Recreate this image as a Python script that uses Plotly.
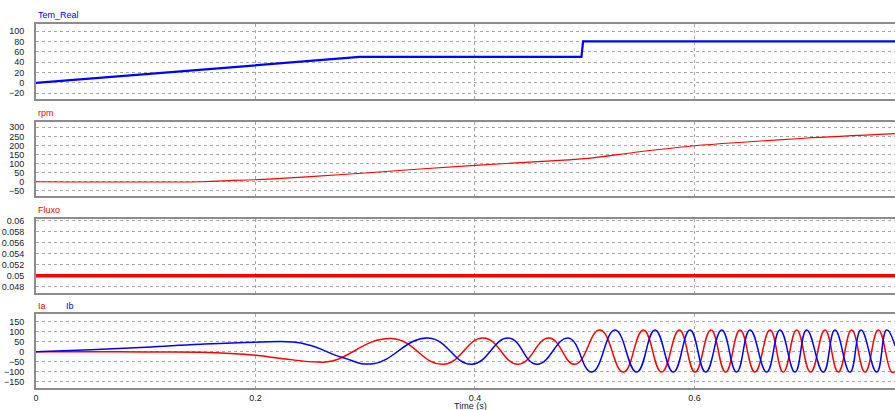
import plotly.graph_objects as go

# ---------------- data ----------------
tem_t = [0.0, 0.1, 0.2, 0.295, 0.4, 0.497, 0.4985, 0.6, 0.7827]
tem_v = [0.0, 17.0, 34.0, 50.0, 50.0, 50.0, 80.0, 80.0, 80.0]

rpm_t = [0.0, 0.15, 0.18, 0.2, 0.22, 0.25, 0.3, 0.35, 0.4, 0.45, 0.5, 0.55, 0.6, 0.65, 0.7, 0.7827]
rpm_v = [0, 0, 7, 11, 17, 28, 48, 70, 90, 108, 127, 165, 198, 220, 240, 265]

flux_t = [0.0, 0.7827]
flux_v = [0.05, 0.05]

ia_t = [0.0, 0.05, 0.1, 0.15, 0.2, 0.225, 0.257, 0.271, 0.3241, 0.3711, 0.4076, 0.4394, 0.4675,
        0.4911, 0.5139, 0.5352, 0.5534, 0.5701, 0.5862, 0.6005, 0.6150, 0.6284, 0.6415,
        0.6551, 0.6688, 0.6809, 0.6931, 0.7058, 0.7189, 0.7310, 0.7432, 0.7554, 0.7675,
        0.7797, 0.7827]
ia_v = [0, 0, -1, -3, -18, -35, -52, -45, 66, -63, 68, -63, 68,
        -63, 108, -102, 108, -102, 108, -102, 108, -102, 108,
        -102, 108, -102, 108, -102, 108, -102, 108, -102, 108,
        -102, -98]

ib_t = [0.0, 0.05, 0.1, 0.15, 0.2, 0.234, 0.2497, 0.28, 0.3074, 0.3575, 0.3970, 0.4304, 0.4565,
        0.4850, 0.5063, 0.5276, 0.5473, 0.5640, 0.5807, 0.5959, 0.6102, 0.6248, 0.6384,
        0.6506, 0.6658, 0.6779, 0.6916, 0.7022, 0.7174, 0.7280, 0.7417, 0.7517, 0.7660,
        0.7751, 0.7827]
ib_v = [0, 10, 22, 37, 47, 48, 32, -30, -60, 68, -63, 68, -63,
        68, -102, 108, -102, 108, -102, 108, -102, 108, -102,
        108, -102, 108, -102, 108, -102, 108, -102, 108, -102,
        108, 30]

x_ticks = [0, 0.2, 0.4, 0.6]
x_ticklabels = ["0", "0.2", "0.4", "0.6"]
tem_ticks = [-20, 0, 20, 40, 60, 80, 100]
rpm_ticks = [-50, 0, 50, 100, 150, 200, 250, 300]
flux_ticks = [0.048, 0.05, 0.052, 0.054, 0.056, 0.058, 0.06]
flux_ticklabels = ["0.048", "0.05", "0.052", "0.054", "0.056", "0.058", "0.06"]
cur_ticks = [-150, -100, -50, 0, 50, 100, 150]

# ---------------- figure ----------------
W, H = 895, 410
BLUE = "#0000FF"
RED = "#FF0000"
FONT = "Liberation Sans"

fig = go.Figure()
fig.add_trace(go.Scatter(x=tem_t, y=tem_v, mode="lines", line=dict(color=BLUE, width=2.2),
                         xaxis="x", yaxis="y", showlegend=False))
fig.add_trace(go.Scatter(x=rpm_t, y=rpm_v, mode="lines", line=dict(color=RED, width=1.1, shape="spline"),
                         xaxis="x2", yaxis="y2", showlegend=False))
fig.add_trace(go.Scatter(x=flux_t, y=flux_v, mode="lines", line=dict(color=RED, width=3.5),
                         xaxis="x3", yaxis="y3", showlegend=False))
fig.add_trace(go.Scatter(x=ia_t, y=ia_v, mode="lines",
                         line=dict(color=RED, width=1.5, shape="spline", smoothing=1.3),
                         xaxis="x4", yaxis="y4", showlegend=False))
fig.add_trace(go.Scatter(x=ib_t, y=ib_v, mode="lines",
                         line=dict(color=BLUE, width=1.5, shape="spline", smoothing=1.3),
                         xaxis="x4", yaxis="y4", showlegend=False))

def ydom(top_px, bot_px):
    return [1 - bot_px / H, 1 - top_px / H]

panels = [
    ("", ydom(24, 99), [-31, 113.5], tem_ticks, None),
    ("2", ydom(121.7, 196), [-79, 331], rpm_ticks, None),
    ("3", ydom(219, 292.7), [0.0469, 0.0603], flux_ticks, flux_ticklabels),
    ("4", ydom(314.3, 387.7), [-180, 187], cur_ticks, None),
]

grid = dict(showgrid=True, gridcolor="#A8A8A8", griddash="3px,3px", gridwidth=1)
for i, (sfx, dom, yr, yt, ytl) in enumerate(panels):
    last = sfx == "4"
    xa = dict(domain=[0, 1], range=[0, 0.7827], anchor="y" + sfx,
              tickvals=x_ticks, ticktext=x_ticklabels, showticklabels=last,
              ticks="", zeroline=False, showline=True, mirror=True,
              linecolor="#8C8C8C", linewidth=2,
              tickfont=dict(family=FONT, size=9, color="#222222"),
              automargin=False, ticklabelstandoff=0, **grid)
    ya = dict(domain=dom, range=yr, anchor="x" + sfx, tickvals=yt,
              ticks="", zeroline=False, showline=True, mirror=False,
              linecolor="#8C8C8C", linewidth=2,
              tickfont=dict(family=FONT, size=9, color="#222222"),
              automargin=False, ticklabelstandoff=8, **grid)
    if ytl is not None:
        ya["ticktext"] = ytl
    if sfx:
        xa["matches"] = "x"
    fig.layout["xaxis" + sfx] = xa
    fig.layout["yaxis" + sfx] = ya

def label(text, xpx, ypx, color):
    fig.add_annotation(text=text, x=(xpx - 36) / (W - 36), y=1 - ypx / H,
                       xref="paper", yref="paper", xanchor="left", yanchor="middle",
                       showarrow=False, font=dict(family=FONT, size=9, color=color))

label("Tem_Real", 36, 15, BLUE)
label("rpm", 36, 113, RED)
label("Fluxo", 36, 210, RED)
label("Ia", 36, 306, RED)
label("Ib", 64, 306, BLUE)

fig.add_annotation(text="Time (s)", x=(470 - 36) / (W - 36), y=1 - 405.5 / H,
                   xref="paper", yref="paper", xanchor="center", yanchor="middle",
                   showarrow=False, font=dict(family=FONT, size=9, color="#222222"))

fig.update_layout(width=W, height=H, margin=dict(l=36, r=0, t=0, b=0),
                  paper_bgcolor="white", plot_bgcolor="white")

fig.write_html("out.html", config={"displayModeBar": False},
               post_script="document.body.style.margin='0';document.body.style.overflow='hidden';")
